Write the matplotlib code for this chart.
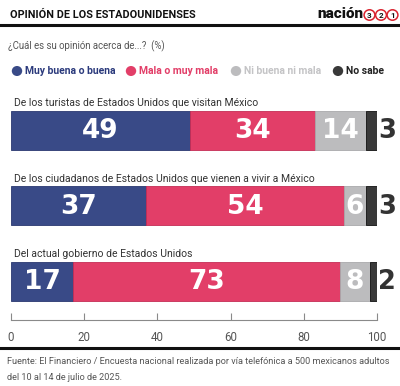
import matplotlib.pyplot as plt
from matplotlib.patches import Circle

# Datos
categorias = [
    "De los turistas de Estados Unidos que visitan México",
    "De los ciudadanos de Estados Unidos que vienen a vivir a México",
    "Del actual gobierno de Estados Unidos",
]
series = ["Muy buena o buena", "Mala o muy mala", "Ni buena ni mala", "No sabe"]
muy_buena = [49, 37, 17]
mala = [34, 54, 73]
ni_buena = [14, 6, 8]
no_sabe = [3, 3, 2]
ticks = [0, 20, 40, 60, 80, 100]

colores = ["#394a87", "#e23e68", "#bcbcbe", "#393939"]
bordes = ["#2a3870", "#c42d55", "#a9a9ab", "#111111"]
texto_legend = ["#2b3a7c", "#e23e68", "#c4c4c6", "#222222"]

W, H = 400, 386
fig = plt.figure(figsize=(W / 100, H / 100), dpi=100)
fig.patch.set_facecolor("white")

# helpers in pixel coords (origin top-left)
def fx(px):
    return px / W

def fy(py):
    return 1 - py / H

FONT = "Roboto"
NUM_FONT = "DejaVu Sans"

# Encabezado
fig.text(fx(10), fy(15), "OPINIÓN DE LOS ESTADOUNIDENSES", family=FONT,
         fontweight="bold", fontsize=7.8, color="#111111", va="center", ha="left")
fig.text(fx(363), fy(14), "nación", family=FONT, fontweight="heavy",
         fontsize=11, color="#111111", va="center", ha="right")
for i, n in enumerate(["3", "2", "1"]):
    cx = 369.5 + i * 11.5
    fig.patches.append(Circle((fx(cx), fy(15)), 5.4 / W, transform=fig.transFigure,
                              facecolor="white", edgecolor="#d9232e", linewidth=1.1))
    fig.text(fx(cx), fy(15), n, family=FONT, fontweight="bold", fontsize=5.8,
             color="#111111", ha="center", va="center")
fig.add_artist(plt.Line2D([0, 1], [fy(24.5), fy(24.5)], transform=fig.transFigure,
                          color="#111111", linewidth=2.2))

fig.text(fx(8), fy(46), "¿Cuál es su opinión acerca de...?  (%)", family=FONT,
         fontsize=6.9, color="#555555", va="center", ha="left")

# Leyenda
leg_x = [17, 131, 236, 338]
for x, s, c, tc in zip(leg_x, series, colores, texto_legend):
    fig.patches.append(Circle((fx(x), fy(71)), 5.2 / W, transform=fig.transFigure,
                              facecolor=c, edgecolor="none"))
    fig.text(fx(x + 8), fy(71), s, family=FONT, fontweight="bold", fontsize=7.5,
             color=tc, va="center", ha="left")

# Barras
ax = fig.add_axes([fx(11), fy(320), 366 / W, 220 / H])
ax.set_xlim(0, 100)
ax.set_ylim(320, 100)
centros = [130.5, 206, 281.5]
alto = 39

valores = [muy_buena, mala, ni_buena, no_sabe]
for j, (cat, yc) in enumerate(zip(categorias, centros)):
    izq = 0
    for k in range(4):
        v = valores[k][j]
        ax.barh(yc, v, left=izq, height=alto, color=colores[k],
                edgecolor=bordes[k], linewidth=0.6)
        if k < 3:
            ax.text(izq + v / 2, yc + 1, str(v), family=NUM_FONT, fontweight="bold",
                    fontsize=19, color="white", ha="center", va="center")
        else:
            ax.text(izq + v + 0.3, yc + 1, str(v), family=NUM_FONT, fontweight="bold",
                    fontsize=18.5, color="#333333", ha="left", va="center", clip_on=False)
        izq += v
    ax.text(0.8, yc - alto / 2 - 2.5, cat, family=FONT, fontsize=7.5,
            color="#333333", ha="left", va="bottom")

for s in ["top", "right", "left"]:
    ax.spines[s].set_visible(False)
ax.spines["bottom"].set_color("#8a8a8a")
ax.spines["bottom"].set_linewidth(0.8)
ax.set_yticks([])
ax.set_xticks(ticks)
ax.tick_params(axis="x", direction="in", length=5, width=0.8, color="#8a8a8a",
               labelsize=8.3, labelcolor="#555555", pad=8)
for lbl in ax.get_xticklabels():
    lbl.set_family(FONT)

fig.add_artist(plt.Line2D([0, 1], [fy(347.5), fy(347.5)], transform=fig.transFigure,
                          color="#111111", linewidth=2.2))

fig.text(fx(7), fy(362), "Fuente: El Financiero / Encuesta nacional realizada por vía "
         "telefónica a 500 mexicanos adultos", family=FONT, fontsize=6.6,
         color="#555555", va="center", ha="left")
fig.text(fx(7), fy(377), "del 10 al 14 de julio de 2025.", family=FONT, fontsize=6.6,
         color="#555555", va="center", ha="left")

fig.savefig("out.png", dpi=100)
